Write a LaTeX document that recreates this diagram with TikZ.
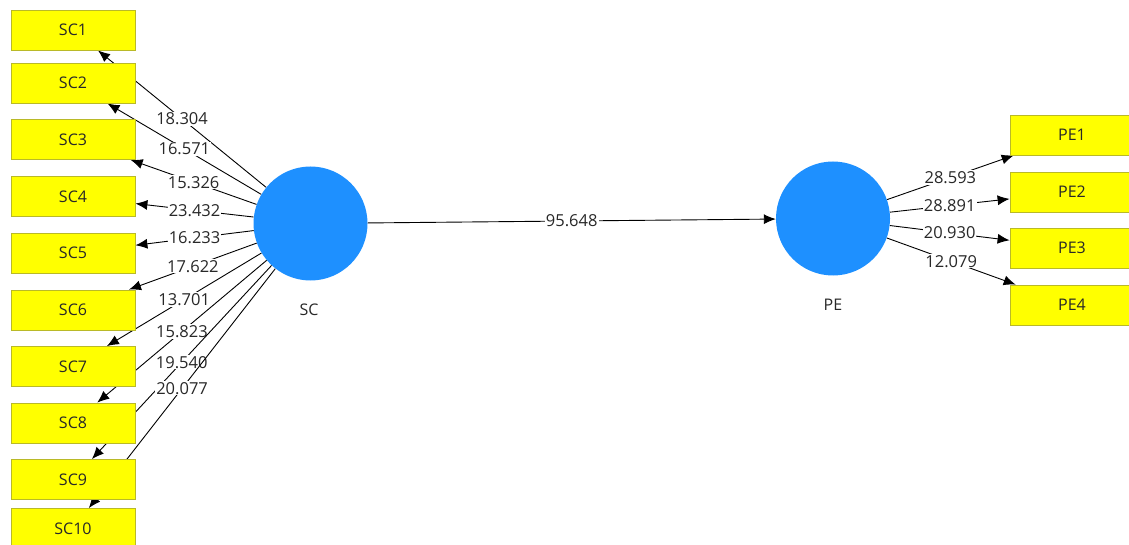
\documentclass[tikz,border=0pt]{standalone}
\usepackage{fontspec}
\setmainfont{Open Sans}
\usetikzlibrary{arrows.meta,backgrounds}
\definecolor{boxfill}{RGB}{255,255,0}
\definecolor{boxline}{RGB}{185,185,40}
\definecolor{lvblue}{RGB}{30,144,255}
\definecolor{txt}{RGB}{40,40,40}
\begin{document}
\begin{tikzpicture}[x=1pt,y=-1pt,
 ind/.style={rectangle,fill=boxfill,draw=boxline,line width=0.8pt,minimum width=124pt,minimum height=40pt,inner sep=0pt,font=\fontsize{16}{16}\selectfont,text=txt},
 lv/.style={circle,fill=lvblue,minimum size=114pt,inner sep=0pt},
 lvname/.style={font=\fontsize{16}{16}\selectfont,text=txt},
 conn/.style={line width=0.9pt,draw=black,-{Latex[length=12pt,width=10pt]}},
 val/.style={midway,fill=white,inner sep=1pt,font=\fontsize{16.5}{16.5}\selectfont,text=txt}]
\clip (0,0) rectangle (1129,545);
% indicator boxes
\node[ind] (SC1) at (73,30) {SC1};
\node[ind] (SC2) at (73,83) {SC2};
\node[ind] (SC3) at (73,139.5) {SC3};
\node[ind] (SC4) at (73,196.5) {SC4};
\node[ind] (SC5) at (73,253) {SC5};
\node[ind] (SC6) at (73,310) {SC6};
\node[ind] (SC7) at (73,366.5) {SC7};
\node[ind] (SC8) at (73,423) {SC8};
\node[ind] (SC9) at (73,479.5) {SC9};
\node[ind] (SC10) at (73,528.5) {SC10};
\node[ind] (PE1) at (1072,135) {PE1};
\node[ind] (PE2) at (1072,192) {PE2};
\node[ind] (PE3) at (1072,248) {PE3};
\node[ind] (PE4) at (1072,305) {PE4};
% latent variables
\node[lv] (SC) at (310.5,223.5) {};
\node[lv] (PE) at (833,218.5) {};
\node[lvname] (SCn) at (309,310) {SC};
\node[lvname] (PEn) at (833,305) {PE};
\begin{scope}[on background layer]
\fill[white] (0,0) rectangle (1129,545);
\draw[conn] (SC) -- (SC1) node[val] {18.304};
\draw[conn] (SC) -- (SC2) node[val] {16.571};
\draw[conn] (SC) -- (SC3) node[val] {15.326};
\draw[conn] (SC) -- (SC4) node[val] {23.432};
\draw[conn] (SC) -- (SC5) node[val] {16.233};
\draw[conn] (SC) -- (SC6) node[val] {17.622};
\draw[conn] (SC) -- (SC7) node[val] {13.701};
\draw[conn] (SC) -- (SC8) node[val] {15.823};
\draw[conn] (SC) -- (SC9) node[val] {19.540};
\draw[conn] (SC) -- (SC10) node[val] {20.077};
\draw[conn] (SC) -- (PE) node[val] {95.648};
\draw[conn] (PE) -- (PE1) node[val] {28.593};
\draw[conn] (PE) -- (PE2) node[val] {28.891};
\draw[conn] (PE) -- (PE3) node[val] {20.930};
\draw[conn] (PE) -- (PE4) node[val] {12.079};
\end{scope}
\end{tikzpicture}
\end{document}
